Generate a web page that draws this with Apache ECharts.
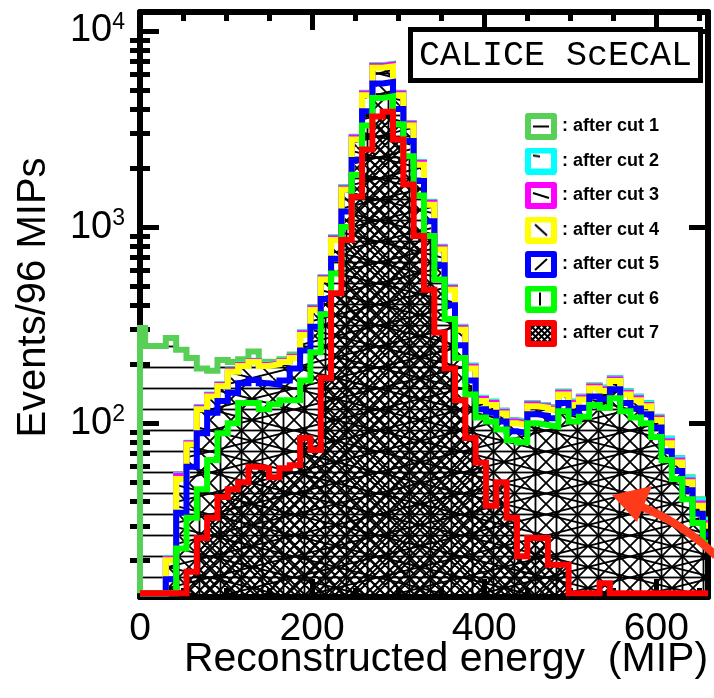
<!DOCTYPE html>
<html><head><meta charset="utf-8">
<script src="https://cdn.jsdelivr.net/npm/echarts@6/dist/echarts.min.js"></script>
<style>html,body{margin:0;padding:0;background:#fff}#c{width:714px;height:698px}</style>
</head><body><div id="c"></div>
<script>
// ---------- data ----------
const binWidth = 12; // MIP
const binCenters = [0,12,24,36,48,60,72,84,96,108,120,132,144,156,168,180,192,204,216,228,240,252,264,276,288,300,312,324,336,348,360,372,384,396,408,420,432,444,456,468,480,492,504,516,528,540,552,564,576,588,600,612,624,636,648,660];
const emptyLevel = 13.6;
const cut1 = [306,248,248,272,237,215,190,185,210,205,212,232,206,205,212,224,291,391,557,888,1600,2890,4850,6700,6800,4850,3400,2145,1345,795,496,310,197,135,129,116,104,102,127,124,121,145,129,137,156,152,170,146,137,127,108,83.5,66.5,53,41,32.3];
const cut2 = [13.6,13.6,13.6,20.4,54.5,79.5,121,140,158,186,199,208,199,203,208,219,290,389,555,884,1590,2880,4830,6670,6770,4830,3390,2135,1340,790,494,309,196,134,128,115,103,101,126,123,120,144,128,136,155,151,169,145,136,126,107,83,66,52.5,40.5,32];
const cut3 = [13.6,13.6,13.6,20.3,54,79,120,139,157,185,198,207,198,202,207,218,288,386,551,877,1580,2860,4800,6630,6730,4800,3370,2120,1330,785,490,306,194,133,127,114,102,100,125,122,119,143,127,135,154,149,167,143,134,124,106,81,64.5,51,39,31];
const cut4 = [13.6,13.6,13.6,20,52,78,118,137,155,183,196,205,196,200,205,215,282,378,540,860,1550,2800,4700,6500,6600,4700,3300,2080,1300,770,480,300,190,130,124,112,100,98,122,120,117,140,124,132,151,146,164,140,131,122,104,79,63,50,38,30];
const cut5 = [13.6,13.6,13.6,16,35,60,89,113,130,143,160,166,160,157,165,190,235,310,430,690,1200,2200,3900,5400,5500,4000,2750,1720,1070,640,400,250,165,118,113,102,91,89,111,109,106,127,113,120,137,133,149,127,119,111,95,72,57,45.5,34.5,27];
const cut6 = [13.6,13.6,13.6,13.6,23,33,46,65,89,100,127,127,118,125,131,131,165,230,360,580,1000,1850,3300,4550,4650,3350,2300,1450,900,540,340,215,140,107,102,93,82,80,100,98,96,115,102,108,124,120,134,115,107,100,85,65,52,41,31,24.6];
const cut7 = [13.6,13.6,13.6,13.6,13.6,17.5,26,33,42,46,50,60,59,53,59,61,84,73,170,460,860,1430,2490,3660,3870,2800,1650,900,480,290,190,131,84,63,38,50,33,21,26,26,19,19,13.6,13.6,13.6,15.3,13.6,13.6,13.6,13.6,13.6,13.6,13.6,13.6,13.6,13.6];
const seriesNames = [': after cut 1', ': after cut 2', ': after cut 3', ': after cut 4', ': after cut 5', ': after cut 6', ': after cut 7'];
const seriesColors = ['#58d058', '#00ffff', '#ff00ff', '#ffff00', '#0000ff', '#00ff00', '#ff0000'];
const hatchKinds = ['h', 'shallowUp', 'shallowDown', 'back', 'slash', 'v', 'cross'];
const xMin = 0, xMax = 660;
const yMin = 13, yMax = 12500;
const xTicksMajor = [0, 200, 400, 600];
const xTicksMinor = [50, 100, 150, 250, 300, 350, 450, 500, 550, 650];
const yTicksMajor = [100, 1000, 10000];
const yTicksMinor = [20,30,40,50,60,70,80,90,200,300,400,500,600,700,800,900,2000,3000,4000,5000,6000,7000,8000,9000];
const allCuts = [cut1, cut2, cut3, cut4, cut5, cut6, cut7];

// ---------- helpers ----------
function makePattern(kind) {
  const c = document.createElement('canvas');
  let W = 21, H = 21;
  if (kind === 'shallowUp' || kind === 'shallowDown') { W = 84; H = 21; }
  if (kind === 'cross') { W = 10; H = 10; }
  c.width = W; c.height = H;
  const g = c.getContext('2d');
  g.strokeStyle = '#000';
  g.lineWidth = kind === 'cross' ? 2 : 1.8;
  g.beginPath();
  if (kind === 'h') { g.moveTo(0, H / 2); g.lineTo(W, H / 2); }
  else if (kind === 'v') { g.moveTo(W / 2, 0); g.lineTo(W / 2, H); }
  else {
    for (let n = -1; n <= 1; n++) {
      if (kind === 'slash' || kind === 'shallowUp' || kind === 'cross') { g.moveTo(0, H + n * H); g.lineTo(W, n * H); }
      if (kind === 'back' || kind === 'shallowDown' || kind === 'cross') { g.moveTo(0, n * H); g.lineTo(W, H + n * H); }
    }
  }
  g.stroke();
  return c;
}
function makeIcon(i) {
  const c = document.createElement('canvas');
  c.width = 32; c.height = 27;
  const g = c.getContext('2d');
  g.fillStyle = '#fff'; g.fillRect(0, 0, 32, 27);
  if (hatchKinds[i] === 'cross') {
    g.save(); g.beginPath(); g.rect(5, 5, 22, 17); g.clip();
    g.strokeStyle = '#000'; g.lineWidth = 2; g.beginPath();
    for (let k = -30; k < 40; k += 6) { g.moveTo(k, 0); g.lineTo(k + 27, 27); g.moveTo(k + 27, 0); g.lineTo(k, 27); }
    g.stroke(); g.restore();
  }
  g.strokeStyle = seriesColors[i]; g.lineWidth = 6; g.lineJoin = 'round';
  g.strokeRect(3, 3, 26, 21);
  g.strokeStyle = '#000'; g.lineWidth = 2; g.beginPath();
  switch (hatchKinds[i]) {
    case 'h': g.moveTo(8, 13.5); g.lineTo(24, 13.5); break;
    case 'shallowUp': g.moveTo(8, 8); g.lineTo(15, 9); break;
    case 'shallowDown': g.moveTo(8, 11); g.lineTo(24, 16); break;
    case 'back': g.moveTo(10, 8); g.lineTo(22, 19); break;
    case 'slash': g.moveTo(10, 19); g.lineTo(22, 8); break;
    case 'v': g.moveTo(15, 7); g.lineTo(15, 20); break;
  }
  g.stroke();
  return c.toDataURL();
}
function stepPoints(vals) {
  const pts = [[xMin, emptyLevel]];
  for (let k = 0; k < vals.length; k++) {
    pts.push([Math.max(xMin, binCenters[k] - binWidth / 2), vals[k]]);
  }
  pts.push([Math.min(xMax, binCenters[binCenters.length - 1] + binWidth / 2), vals[vals.length - 1]]);
  return pts;
}

// ---------- chart ----------
const FONT = '"Liberation Sans", Arial, Helvetica, sans-serif';
const chart = echarts.init(document.getElementById('c'), null, { renderer: 'canvas' });

const series = allCuts.map((vals, i) => ({
  type: 'line', name: seriesNames[i], data: stepPoints(vals), step: 'end',
  showSymbol: false, symbol: 'none', clip: true, silent: true,
  xAxisIndex: 0, yAxisIndex: 0,
  lineStyle: { color: seriesColors[i], width: 6, join: 'miter', cap: 'butt' },
  itemStyle: { color: seriesColors[i] },
  areaStyle: { origin: 'start', opacity: 1, color: { image: makePattern(hatchKinds[i]), repeat: 'repeat' } },
  emphasis: { disabled: true }
}));

const frameLine = { show: true, onZero: false, lineStyle: { color: '#000', width: 6 } };
function xAx(pos, major, withLabel) {
  return {
    type: 'value', position: pos, min: xMin, max: xMax,
    axisLine: major ? frameLine : { show: false },
    axisTick: { show: true, inside: true, length: major ? 18 : 9, customValues: major ? xTicksMajor : xTicksMinor, lineStyle: { color: '#000', width: 5 } },
    axisLabel: withLabel ? { show: true, customValues: xTicksMajor, fontSize: 39, fontFamily: FONT, color: '#000', margin: 13 } : { show: false },
    splitLine: { show: false }
  };
}
function yAx(pos, major, withLabel) {
  return {
    type: 'log', logBase: 10, position: pos, min: yMin, max: yMax,
    axisLine: major ? frameLine : { show: false },
    axisTick: { show: true, inside: true, length: major ? 19 : 10, customValues: major ? yTicksMajor : yTicksMinor, lineStyle: { color: '#000', width: 5 } },
    axisLabel: withLabel ? {
      show: true, customValues: yTicksMajor, margin: 15,
      formatter: v => '{b|10}{s|' + Math.round(Math.log10(v)) + '}',
      rich: {
        b: { fontSize: 38, fontFamily: FONT, color: '#000', lineHeight: 40 },
        s: { fontSize: 23, fontFamily: FONT, color: '#000', lineHeight: 20, verticalAlign: 'top' }
      }
    } : { show: false },
    splitLine: { show: false }
  };
}

const xAxes = [xAx('bottom', true, true), xAx('bottom', false, false), xAx('top', true, false), xAx('top', false, false)];
xAxes[0].name = 'Reconstructed energy  (MIP)';
xAxes[0].nameLocation = 'middle';
xAxes[0].nameGap = 42;
xAxes[0].nameMoveOverlap = false;
xAxes[0].nameTextStyle = { fontSize: 41, fontFamily: FONT, color: '#000', padding: [0, 0, 0, 44] };
const yAxes = [yAx('left', true, true), yAx('left', false, false), yAx('right', true, false), yAx('right', false, false)];
yAxes[0].name = 'Events/96 MIPs';
yAxes[0].nameLocation = 'middle';
yAxes[0].nameGap = 86;
yAxes[0].nameMoveOverlap = false;
yAxes[0].nameTextStyle = { fontSize: 40, fontFamily: FONT, color: '#000', padding: [0, 0, 0, 14] };

const icons = seriesNames.map((n, i) => makeIcon(i));

chart.setOption({
  animation: false,
  backgroundColor: '#fff',
  grid: { left: 140, right: 6, top: 12, bottom: 101, containLabel: false, outerBoundsMode: 'none' },
  title: {
    text: 'CALICE ScECAL', left: 410, top: 29,
    padding: [9, 9, 7, 9], borderWidth: 5, borderColor: '#000', backgroundColor: '#fff',
    textStyle: { fontFamily: '"Liberation Mono", "Courier New", monospace', fontSize: 35, fontWeight: 'normal', color: '#000', lineHeight: 36 }
  },
  legend: {
    orient: 'vertical', left: 525, top: 113, padding: 0,
    itemWidth: 32, itemHeight: 27, itemGap: 7.5, selectedMode: false,
    textStyle: { fontFamily: FONT, fontSize: 18, fontWeight: 'bold', color: '#000' },
    data: seriesNames.map((n, i) => ({ name: n, icon: 'image://' + icons[i] }))
  },
  xAxis: xAxes,
  yAxis: yAxes,
  series: series,
  graphic: [
    { type: 'bezierCurve', z: 100, silent: true,
      shape: { x1: 716, y1: 556, cpx1: 684, cpy1: 524, x2: 640, y2: 506 },
      style: { stroke: '#ff3a1a', lineWidth: 8, fill: null } },
    { type: 'polygon', z: 100, silent: true,
      shape: { points: [[612, 495], [652, 486], [637, 522]] },
      style: { fill: '#ff3a1a' } }
  ]
});
</script></body></html>
